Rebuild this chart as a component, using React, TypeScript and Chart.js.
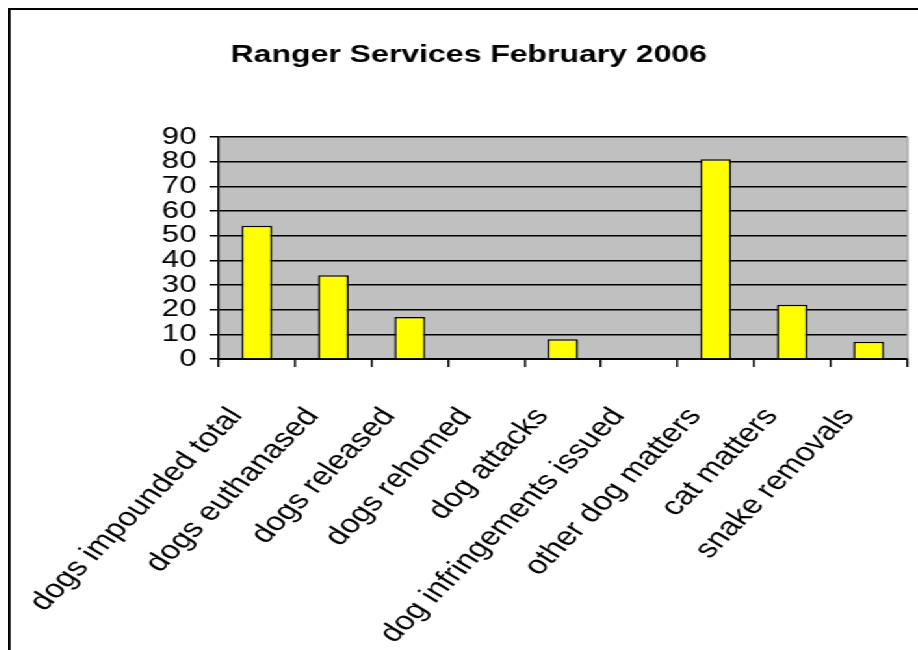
import React, { useEffect, useRef } from "react";
import { Chart, registerables } from "chart.js";

Chart.register(...registerables);

const TITLE = "Ranger Services February 2006";
const categories = [
  "dogs impounded total",
  "dogs euthanased",
  "dogs released",
  "dogs rehomed",
  "dog attacks",
  "dog infringements issued",
  "other dog matters",
  "cat matters",
  "snake removals",
];
const values = [54, 34, 17, 0, 8, 0, 81, 22, 7];
const yMin = 0;
const yMax = 90;
const yStep = 10;

const FONT = "'Liberation Sans', Arial, sans-serif";
const STRETCH = 1.3;
const CW = 705;
const CH = 700;

const plotBg = {
  id: "plotBg",
  beforeDraw(chart: any) {
    const { ctx, chartArea } = chart;
    ctx.save();
    ctx.fillStyle = "#C0C0C0";
    ctx.fillRect(chartArea.left, chartArea.top, chartArea.right - chartArea.left, chartArea.bottom - chartArea.top);
    ctx.restore();
  },
  afterDatasetsDraw(chart: any) {
    const { ctx, chartArea } = chart;
    ctx.save();
    ctx.strokeStyle = "#808080";
    ctx.lineWidth = 1;
    ctx.beginPath();
    ctx.moveTo(chartArea.right + 0.5, chartArea.top);
    ctx.lineTo(chartArea.right + 0.5, chartArea.bottom);
    ctx.stroke();
    ctx.restore();
  },
};

export default function App() {
  const ref = useRef<HTMLCanvasElement>(null);
  useEffect(() => {
    if (!ref.current) return;
    const chart = new Chart(ref.current, {
      type: "bar",
      data: {
        labels: categories,
        datasets: [
          {
            data: values,
            backgroundColor: "#FFFF00",
            borderColor: "#000000",
            borderWidth: 1.5,
            barPercentage: 0.4,
            categoryPercentage: 1,
          },
        ],
      },
      options: {
        animation: false,
        responsive: false,
        devicePixelRatio: 1,
        layout: { padding: 0 },
        plugins: {
          legend: { display: false },
          tooltip: { enabled: false },
          title: {
            display: true,
            text: TITLE,
            color: "#000",
            font: { family: FONT, size: 24.6, weight: "bold" },
            padding: { top: 30, bottom: 67.5 },
          },
        },
        scales: {
          x: {
            grid: { drawOnChartArea: false, color: "#000", lineWidth: 1.5, tickLength: 8, offset: true },
            border: { color: "#000", width: 2 },
            ticks: {
              autoSkip: false,
              minRotation: 52,
              maxRotation: 52,
              color: "#000",
              font: { family: FONT, size: 26 },
              padding: 35,
              labelOffset: -16,
            },
            afterFit(s: any) {
              s.height = 351;
              s.paddingRight = 0;
              s.paddingLeft = 0;
            },
          },
          y: {
            min: yMin,
            max: yMax,
            grid: { color: "#000", lineWidth: 1.5, tickLength: 7 },
            border: { color: "#000", width: 1.5 },
            ticks: {
              stepSize: yStep,
              autoSkip: false,
              color: "#000",
              font: { family: FONT, size: 24 },
              padding: 10,
            },
            afterFit(s: any) {
              s.width = 160;
            },
          },
          yRight: {
            position: "right",
            display: true,
            min: yMin,
            max: yMax,
            grid: { display: false, drawTicks: false },
            border: { display: false },
            ticks: { display: false },
            afterFit(s: any) {
              s.width = 15.5;
            },
          },
        },
      },
      plugins: [plotBg],
    });
    return () => chart.destroy();
  }, []);

  return (
    <div
      style={{
        position: "fixed",
        left: 0,
        top: 0,
        width: 918,
        height: 650,
        overflow: "hidden",
        background: "#fff",
      }}
    >
      <div
        style={{
          position: "absolute",
          left: 8,
          top: 8,
          border: "2px solid #000",
          transform: `scaleX(${STRETCH})`,
          transformOrigin: "0 0",
          background: "#fff",
        }}
      >
        <canvas ref={ref} width={CW} height={CH} style={{ display: "block" }} />
      </div>
    </div>
  );
}
